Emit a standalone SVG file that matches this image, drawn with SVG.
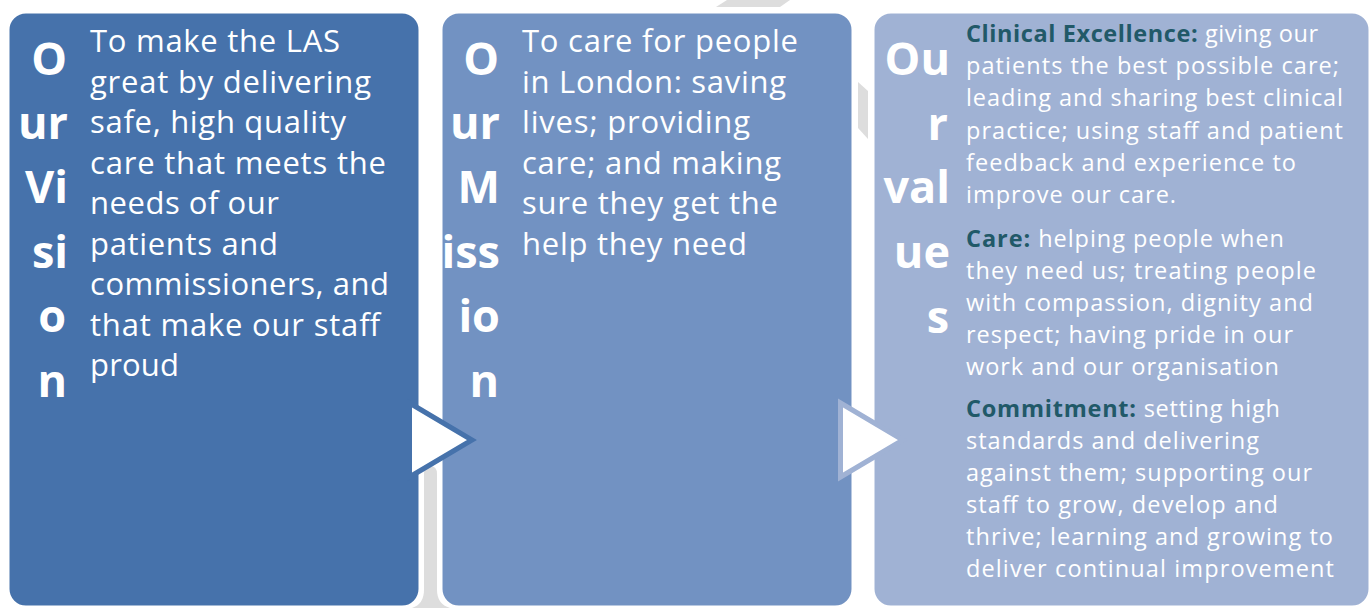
<svg xmlns="http://www.w3.org/2000/svg" width="1371" height="608" viewBox="0 0 1371 608">
  <style>
    .box { stroke: #ffffff; stroke-width: 3; }
    .b1 { fill: #4672AB; }
    .b2 { fill: #7292C2; }
    .b3 { fill: #A0B2D4; }
    .big { font-family: "Open Sans", "Liberation Sans", sans-serif; font-weight: bold; font-size: 45px; fill: #ffffff; text-anchor: end; }
    .body { font-family: "Open Sans", "Liberation Sans", sans-serif; font-size: 31px; fill: #ffffff; }
    .small { font-family: "Open Sans", "Liberation Sans", sans-serif; font-size: 23.5px; fill: #ffffff; }
    .hd { font-weight: bold; fill: #215968; }
    .shade { fill: #DDDDDD; }
    .arrow { fill: #ffffff; stroke-width: 5; stroke-linejoin: miter; }
  </style>

  <rect width="1371" height="608" fill="#ffffff"/>

  <!-- grey backdrop band, visible only in the gaps -->
  <g id="backdrop">
    <polygon class="shade" points="727,0 790,0 780,7 716,7"/>
    <polygon class="shade" points="858,82 868,91 868,139 858,128"/>
    <path class="shade" d="M424,474 Q424,466 430,466 Q437,466 437,474 L437,590 Q437,604 450,608 L412,608 Q424,604 424,590 Z"/>
  </g>

  <!-- Our Vision -->
  <g id="vision">
    <rect class="box b1" x="8" y="12" width="412" height="595" rx="18" ry="18"/>
    <text class="big" x="67" y="75">O</text>
    <text class="big" x="68" y="139">ur</text>
    <text class="big" x="68" y="203">Vi</text>
    <text class="big" x="68" y="268">si</text>
    <text class="big" x="66" y="332">o</text>
    <text class="big" x="67" y="397">n</text>
    <text class="body" x="90" y="52" textLength="250">To make the LAS</text>
    <text class="body" x="90" y="92.5" textLength="281">great by delivering</text>
    <text class="body" x="90" y="133" textLength="256">safe, high quality</text>
    <text class="body" x="90" y="173.5" textLength="296">care that meets the</text>
    <text class="body" x="90" y="214" textLength="189">needs of our</text>
    <text class="body" x="90" y="254.5" textLength="188">patients and</text>
    <text class="body" x="90" y="295" textLength="299">commissioners, and</text>
    <text class="body" x="90" y="335.5" textLength="290">that make our staff</text>
    <text class="body" x="90" y="376" textLength="89">proud</text>
  </g>

  <!-- Our Mission -->
  <g id="mission">
    <rect class="box b2" x="441" y="12" width="412" height="595" rx="18" ry="18"/>
    <text class="big" x="499" y="75">O</text>
    <text class="big" x="500" y="139">ur</text>
    <text class="big" x="500" y="203">M</text>
    <text class="big" x="500" y="268">iss</text>
    <text class="big" x="500" y="332">io</text>
    <text class="big" x="499" y="397">n</text>
    <text class="body" x="522" y="52" textLength="276">To care for people</text>
    <text class="body" x="522" y="92.5" textLength="264">in London: saving</text>
    <text class="body" x="522" y="133" textLength="228">lives; providing</text>
    <text class="body" x="522" y="173.5" textLength="259">care; and making</text>
    <text class="body" x="522" y="214" textLength="256">sure they get the</text>
    <text class="body" x="522" y="254.5" textLength="225">help they need</text>
  </g>

  <!-- Our values -->
  <g id="values">
    <rect class="box b3" x="873" y="12" width="497" height="595" rx="18" ry="18"/>
    <text class="big" x="950" y="75">Ou</text>
    <text class="big" x="948" y="140">r</text>
    <text class="big" x="950" y="203">val</text>
    <text class="big" x="950" y="268">ue</text>
    <text class="big" x="949" y="333">s</text>

    <text class="small" x="966" y="42" textLength="352"><tspan class="hd">Clinical Excellence:</tspan> giving our</text>
    <text class="small" x="966" y="74" textLength="373">patients the best possible care;</text>
    <text class="small" x="966" y="106" textLength="377">leading and sharing best clinical</text>
    <text class="small" x="966" y="138.5" textLength="377">practice; using staff and patient</text>
    <text class="small" x="966" y="170.5" textLength="330">feedback and experience to</text>
    <text class="small" x="966" y="203" textLength="210">improve our care.</text>

    <text class="small" x="966" y="247" textLength="318"><tspan class="hd">Care:</tspan> helping people when</text>
    <text class="small" x="966" y="279" textLength="350">they need us; treating people</text>
    <text class="small" x="966" y="311" textLength="347">with compassion, dignity and</text>
    <text class="small" x="966" y="343" textLength="327">respect; having pride in our</text>
    <text class="small" x="966" y="375" textLength="313">work and our organisation</text>

    <text class="small" x="966" y="417" textLength="314"><tspan class="hd">Commitment:</tspan> setting high</text>
    <text class="small" x="966" y="449" textLength="293">standards and delivering</text>
    <text class="small" x="966" y="481" textLength="346">against them; supporting our</text>
    <text class="small" x="966" y="513" textLength="312">staff to grow, develop and</text>
    <text class="small" x="966" y="545" textLength="367">thrive; learning and growing to</text>
    <text class="small" x="966" y="577" textLength="368">deliver continual improvement</text>
  </g>

  <!-- flow arrows between the panels -->
  <g id="connectors">
    <polygon class="arrow" stroke="#4672AB" points="409.5,403 409.5,477 472,440"/>
    <polygon class="arrow" stroke="#A0B2D4" points="840.5,403 840.5,477 903,440"/>
  </g>
</svg>
